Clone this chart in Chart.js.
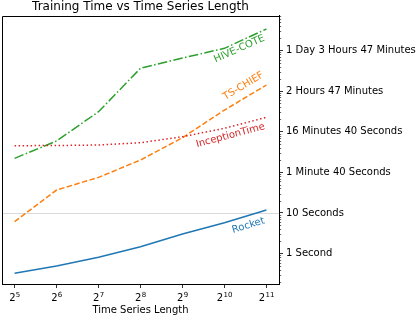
<!DOCTYPE html>
<html>
<head>
<meta charset="utf-8">
<script src="https://cdn.jsdelivr.net/npm/chart.js@4.4.1/dist/chart.umd.min.js"></script>
<style>
  html, body { margin: 0; padding: 0; background: #fff; }
  canvas { display: block; }
</style>
</head>
<body>
<canvas id="chart" width="416" height="318"></canvas>
<script>
// series lengths (x) and training time in seconds (y)
const lengths = [32, 64, 128, 256, 512, 1024, 2048];
const rocket = [0.325, 0.49, 0.81, 1.47, 3.02, 5.74, 11.8];
const tsChief = [6.1, 36.6, 75, 201, 711, 3420, 14100];
const hiveCote = [221, 590, 3110, 36500, 65300, 113000, 339000];
const inceptionTime = [452, 457, 470, 536, 753, 1213, 2263];

const xTickPowers = [5, 6, 7, 8, 9, 10, 11];
const yTickValues = [1, 10, 100, 1000, 10000, 100000];
const yTickLabels = ['1 Second', '10 Seconds', '1 Minute 40 Seconds', '16 Minutes 40 Seconds',
                     '2 Hours 47 Minutes', '1 Day 3 Hours 47 Minutes'];
const refLine = 10; // light grey line at 10 seconds

const FONT = "'DejaVu Sans', sans-serif";
const BLUE = '#1f77b4', ORANGE = '#ff7f0e', GREEN = '#2ca02c', RED = '#d62728';

// label anchors in data units (length, seconds)
const seriesLabels = [
    { text: 'HIVE-COTE', color: GREEN, x: 1311, y: 109000, angle: -24 },
    { text: 'TS-CHIEF', color: ORANGE, x: 1401, y: 13400, angle: -31 },
    { text: 'InceptionTime', color: RED, x: 1131, y: 806, angle: -15 },
    { text: 'Rocket', color: BLUE, x: 1521, y: 4.9, angle: -17 }
];

// frame on the left/top, minor log ticks, rotated labels, 2^n tick labels
const decorations = {
    id: 'decorations',
    beforeDatasetsDraw(chart) {
        const ctx = chart.ctx;
        const { left, right } = chart.chartArea;
        const py = Math.round(chart.scales.y.getPixelForValue(refLine)) + 0.5;
        ctx.save();
        ctx.strokeStyle = '#cfcfcf';
        ctx.lineWidth = 0.8;
        ctx.beginPath();
        ctx.moveTo(left, py);
        ctx.lineTo(right, py);
        ctx.stroke();
        ctx.restore();
    },
    afterDatasetsDraw(chart) {
        const ctx = chart.ctx;
        const xs = chart.scales.x, ys = chart.scales.y;
        ctx.save();
        ctx.font = `10px ${FONT}`;
        ctx.textAlign = 'center';
        ctx.textBaseline = 'middle';
        seriesLabels.forEach(l => {
            ctx.save();
            ctx.translate(xs.getPixelForValue(l.x), ys.getPixelForValue(l.y));
            ctx.rotate(l.angle * Math.PI / 180);
            ctx.fillStyle = l.color;
            ctx.fillText(l.text, 0, 0);
            ctx.restore();
        });
        ctx.restore();
    },
    afterDraw(chart) {
        const ctx = chart.ctx;
        const { left, top, right, bottom } = chart.chartArea;
        const xs = chart.scales.x, ys = chart.scales.y;
        ctx.save();
        ctx.strokeStyle = '#000';
        ctx.lineWidth = 1;
        ctx.beginPath();
        ctx.moveTo(Math.round(left) + 0.5, Math.round(bottom));
        ctx.lineTo(Math.round(left) + 0.5, Math.round(top) + 0.5);
        ctx.lineTo(Math.round(right), Math.round(top) + 0.5);
        ctx.stroke();

        // minor ticks on the right axis
        ctx.lineWidth = 0.6;
        ctx.beginPath();
        for (let d = -1; d <= 5; d++) {
            for (let k = 2; k <= 9; k++) {
                const v = k * Math.pow(10, d);
                if (v < ys.min || v > ys.max) continue;
                const py = Math.round(ys.getPixelForValue(v)) + 0.5;
                ctx.moveTo(right, py);
                ctx.lineTo(right + 2.2, py);
            }
        }
        ctx.stroke();

        // x tick labels as 2 with a superscript power
        ctx.fillStyle = '#000';
        ctx.textBaseline = 'alphabetic';
        ctx.textAlign = 'left';
        xTickPowers.forEach(n => {
            const px = xs.getPixelForValue(Math.pow(2, n));
            ctx.font = `10px ${FONT}`;
            const wb = ctx.measureText('2').width;
            ctx.font = `7px ${FONT}`;
            const ws = ctx.measureText(String(n)).width;
            const x0 = px - (wb + ws) / 2;
            ctx.font = `10px ${FONT}`;
            ctx.fillText('2', x0, 301);
            ctx.font = `7px ${FONT}`;
            ctx.fillText(String(n), x0 + wb + 0.3, 296.5);
        });
        ctx.restore();
    }
};

const lineStyle = { borderWidth: 1.5, pointRadius: 0, tension: 0, fill: false };

new Chart(document.getElementById('chart'), {
    type: 'line',
    data: {
        labels: lengths,
        datasets: [
            { ...lineStyle, label: 'Rocket', data: rocket, borderColor: BLUE, order: 4 },
            { ...lineStyle, label: 'TS-CHIEF', data: tsChief, borderColor: ORANGE, borderDash: [5.5, 2.4], order: 3 },
            { ...lineStyle, label: 'HIVE-COTE', data: hiveCote, borderColor: GREEN, borderDash: [9.6, 2.4, 1.5, 2.4], order: 2 },
            { ...lineStyle, label: 'InceptionTime', data: inceptionTime, borderColor: RED, borderDash: [1.5, 2.5], order: 1 }
        ]
    },
    options: {
        responsive: false,
        devicePixelRatio: 1,
        animation: false,
        layout: { padding: { left: 2, right: 0, top: 0, bottom: 0 } },
        plugins: {
            legend: { display: false },
            tooltip: { enabled: false },
            title: {
                display: true,
                fullSize: false,
                text: 'Training Time vs Time Series Length',
                color: '#000',
                font: { family: FONT, size: 12, weight: 'normal' },
                padding: { top: 0, bottom: 1.6 }
            }
        },
        scales: {
            x: {
                type: 'logarithmic',
                min: Math.pow(2, 4.7),
                max: Math.pow(2, 11.3),
                afterBuildTicks: s => { s.ticks = xTickPowers.map(n => ({ value: Math.pow(2, n) })); },
                afterFit: s => { s.height = 34; },
                ticks: { callback: () => '', autoSkip: false, maxRotation: 0 },
                grid: { drawOnChartArea: false, tickLength: 4, tickColor: '#000', tickWidth: 0.8 },
                border: { color: '#000', width: 1 },
                title: {
                    display: true,
                    text: 'Time Series Length',
                    color: '#000',
                    font: { family: FONT, size: 10 },
                    padding: { top: 0, bottom: 2 }
                }
            },
            y: {
                type: 'logarithmic',
                position: 'right',
                min: Math.pow(10, -0.751),
                max: Math.pow(10, 5.85),
                afterBuildTicks: s => { s.ticks = yTickValues.map(v => ({ value: v })); },
                afterFit: s => { s.width = 137; },
                ticks: {
                    callback: v => yTickLabels[yTickValues.indexOf(v)],
                    color: '#000',
                    font: { family: FONT, size: 10 },
                    padding: 3,
                    autoSkip: false
                },
                grid: {
                    drawOnChartArea: false,
                    tickColor: '#000',
                    tickWidth: 0.8,
                    tickLength: 4
                },
                border: { color: '#000', width: 1 }
            }
        }
    },
    plugins: [decorations]
});
</script>
</body>
</html>
